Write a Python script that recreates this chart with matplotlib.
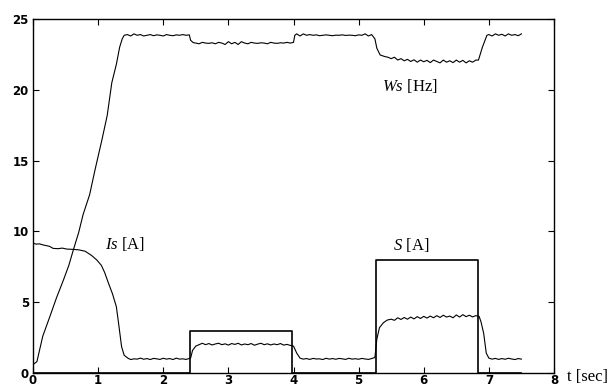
import numpy as np, matplotlib
matplotlib.use("Agg")
import matplotlib.pyplot as plt

# Ws [Hz] -- ramp then plateaus
ws_t = [0.00, 0.06, 0.15, 0.26, 0.36, 0.47, 0.55, 0.62, 0.70, 0.77, 0.87, 0.95, 1.06, 1.14, 1.21, 1.28, 1.33, 1.37, 1.40,
        1.45, 1.50, 1.55, 1.60, 1.65, 1.70, 1.75, 1.80, 1.85, 1.90, 1.95, 2.00, 2.05, 2.10, 2.15, 2.20, 2.25, 2.30, 2.35, 2.40,
        2.42, 2.46,
        2.50, 2.55, 2.60, 2.65, 2.70, 2.75, 2.80, 2.85, 2.90, 2.95, 3.00, 3.05, 3.10, 3.15, 3.20, 3.25, 3.30, 3.35, 3.40, 3.45,
        3.50, 3.55, 3.60, 3.65, 3.70, 3.75, 3.80, 3.85, 3.90, 3.95,
        4.00, 4.02,
        4.05, 4.10, 4.15, 4.20, 4.25, 4.30, 4.35, 4.40, 4.45, 4.50, 4.55, 4.60, 4.65, 4.70, 4.75, 4.80, 4.85, 4.90, 4.95, 5.00,
        5.05, 5.10, 5.15, 5.20,
        5.25, 5.28, 5.33, 5.40,
        5.45, 5.50, 5.55, 5.60, 5.65, 5.70, 5.75, 5.80, 5.85, 5.90, 5.95, 6.00, 6.05, 6.10, 6.15, 6.20, 6.25, 6.30, 6.35, 6.40,
        6.45, 6.50, 6.55, 6.60, 6.65, 6.70, 6.75, 6.80,
        6.84, 6.90, 6.97,
        7.00, 7.05, 7.10, 7.15, 7.20, 7.25, 7.30, 7.35, 7.40, 7.45, 7.50]
ws_v = [0.6, 0.8, 2.6, 4.0, 5.3, 6.6, 7.6, 8.7, 9.9, 11.2, 12.6, 14.3, 16.5, 18.2, 20.5, 21.8, 23.0, 23.6, 23.85,
        23.9, 23.8, 23.95, 23.85, 23.9, 23.8, 23.85, 23.9, 23.82, 23.88, 23.85, 23.8, 23.9, 23.85, 23.82, 23.88, 23.85, 23.9, 23.85, 23.88,
        23.5, 23.33,
        23.3, 23.25, 23.35, 23.3, 23.28, 23.32, 23.25, 23.35, 23.3, 23.2, 23.4, 23.25, 23.35, 23.2, 23.4, 23.3, 23.25, 23.35, 23.3, 23.28,
        23.32, 23.3, 23.25, 23.35, 23.3, 23.28, 23.32, 23.3, 23.35, 23.3,
        23.35, 23.85,
        23.95, 23.8, 23.95, 23.85, 23.9, 23.85, 23.88, 23.82, 23.85, 23.88, 23.85, 23.82, 23.86, 23.85, 23.88, 23.84, 23.86, 23.85, 23.82, 23.88,
        23.85, 23.95, 23.8, 23.9,
        23.6, 22.93, 22.46, 22.35,
        22.3, 22.2, 22.3, 22.1, 22.2, 22.05, 22.15, 22.0, 22.12, 21.95, 22.1, 21.98, 22.08, 21.92, 22.1, 22.0, 21.9, 22.1, 21.95, 22.05,
        21.92, 22.1, 21.95, 22.08, 21.9, 22.05, 21.95, 22.1,
        22.1, 23.0, 23.85,
        23.9, 23.8, 23.95, 23.85, 23.92, 23.8, 23.95, 23.85, 23.9, 23.82, 23.95]

# Is [A]
is_t = [0.00, 0.05, 0.10, 0.15, 0.20, 0.25, 0.31, 0.38, 0.45, 0.52, 0.62, 0.70, 0.80, 0.90, 0.98, 1.05, 1.10, 1.16, 1.22, 1.28,
        1.32, 1.36, 1.40, 1.46,
        1.50, 1.55, 1.60, 1.65, 1.70, 1.75, 1.80, 1.85, 1.90, 1.95, 2.00, 2.05, 2.10, 2.15, 2.20, 2.25, 2.30, 2.35, 2.40,
        2.42, 2.45, 2.50, 2.55,
        2.60, 2.65, 2.70, 2.75, 2.80, 2.85, 2.90, 2.95, 3.00, 3.05, 3.10, 3.15, 3.20, 3.25, 3.30, 3.35, 3.40, 3.45, 3.50, 3.55,
        3.60, 3.65, 3.70, 3.75, 3.80, 3.85, 3.90, 3.95,
        4.00, 4.05, 4.10,
        4.15, 4.20, 4.25, 4.30, 4.35, 4.40, 4.45, 4.50, 4.55, 4.60, 4.65, 4.70, 4.75, 4.80, 4.85, 4.90, 4.95, 5.00, 5.05, 5.10,
        5.15, 5.20,
        5.25, 5.28, 5.32, 5.38, 5.44,
        5.50, 5.55, 5.60, 5.65, 5.70, 5.75, 5.80, 5.85, 5.90, 5.95, 6.00, 6.05, 6.10, 6.15, 6.20, 6.25, 6.30, 6.35, 6.40, 6.45,
        6.50, 6.55, 6.60, 6.65, 6.70, 6.75, 6.80,
        6.85, 6.88, 6.92, 6.96, 7.00,
        7.05, 7.10, 7.15, 7.20, 7.25, 7.30, 7.35, 7.40, 7.45, 7.50]
is_v = [9.16, 9.1, 9.12, 9.05, 9.0, 8.95, 8.8, 8.78, 8.82, 8.75, 8.73, 8.7, 8.6, 8.3, 7.98, 7.6, 7.1, 6.33, 5.6, 4.68,
        3.3, 1.86, 1.25, 1.04,
        0.95, 1.0, 0.98, 1.05, 0.97, 1.02, 0.95, 1.03, 1.0, 0.96, 1.04, 0.98, 1.02, 0.95, 1.05, 0.98, 1.0, 0.96, 1.03,
        1.05, 1.6, 1.9, 2.0,
        2.1, 2.0, 2.08, 1.98, 2.05, 2.1, 2.0, 2.06, 1.97, 2.08, 2.02, 2.1, 1.98, 2.05, 2.0, 2.08, 1.96, 2.04, 2.1, 2.0,
        2.06, 1.98, 2.05, 2.0, 2.08, 1.97, 2.02, 1.95,
        1.9, 1.4, 1.05,
        0.98, 1.02, 0.96, 1.03, 0.99, 1.0, 0.95, 1.04, 0.98, 1.02, 0.97, 1.03, 1.0, 0.96, 1.04, 0.98, 1.01, 0.97, 1.03, 0.99,
        0.96, 1.02,
        1.1, 2.4, 3.2, 3.55, 3.74,
        3.8, 3.72, 3.9, 3.78, 3.92, 3.8, 3.95, 3.82, 3.98, 3.85, 4.0, 3.88, 4.02, 3.9, 4.05, 3.92, 4.08, 3.95, 4.02, 3.9,
        4.1, 3.95, 4.12, 3.98, 4.08, 3.96, 4.05,
        4.0, 3.6, 2.8, 1.4, 1.05,
        0.98, 1.03, 0.96, 1.02, 0.97, 1.04, 0.99, 0.95, 1.02, 0.98]

# S [A] -- square pulses
s_t = [0.0, 2.41, 3.98, 5.26, 6.84, 7.5]
s_v = [0.0, 3.0, 0.0, 8.0, 0.0, 0.0]

x_ticks = [0, 1, 2, 3, 4, 5, 6, 7, 8]
y_ticks = [0, 5, 10, 15, 20, 25]

plt.rcParams.update({"mathtext.fontset": "custom",
                     "mathtext.rm": "Liberation Serif",
                     "mathtext.it": "Liberation Serif:italic"})

fig = plt.figure(figsize=(6.13, 3.87), dpi=100)
ax = fig.add_axes([33/613, 1-373/387, (554-33)/613, (373-19)/387])
ax.plot(ws_t, ws_v, color='k', lw=0.8)
ax.plot(is_t, is_v, color='k', lw=0.8)
ax.plot(s_t, s_v, color='k', lw=1.2, drawstyle='steps-post')

ax.set_xlim(0, 8); ax.set_ylim(0, 25)
ax.set_xticks(x_ticks); ax.set_yticks(y_ticks)
ax.tick_params(direction='in', length=4, width=0.8, top=True, right=True, labelsize=8.5)
ax.tick_params(axis='x', pad=1)
ax.tick_params(axis='y', pad=3)
for lab in ax.get_xticklabels() + ax.get_yticklabels():
    lab.set_fontweight('heavy')
for sp in ax.spines.values():
    sp.set_linewidth(1.0)

tf = dict(family='Liberation Serif', fontsize=12, va='center', ha='left')
ax.text(5.36, 20.27, r'$\mathit{Ws}$ [Hz]', **tf)
ax.text(1.11, 9.1, r'$\mathit{Is}$ [A]', **tf)
ax.text(5.53, 9.05, r'$\mathit{S}$ [A]', **tf)
fig.text(567/613, 1-377/387, 't [sec]', family='Liberation Serif', fontsize=12, va='center', ha='left')

fig.savefig("out.png", dpi=100)
